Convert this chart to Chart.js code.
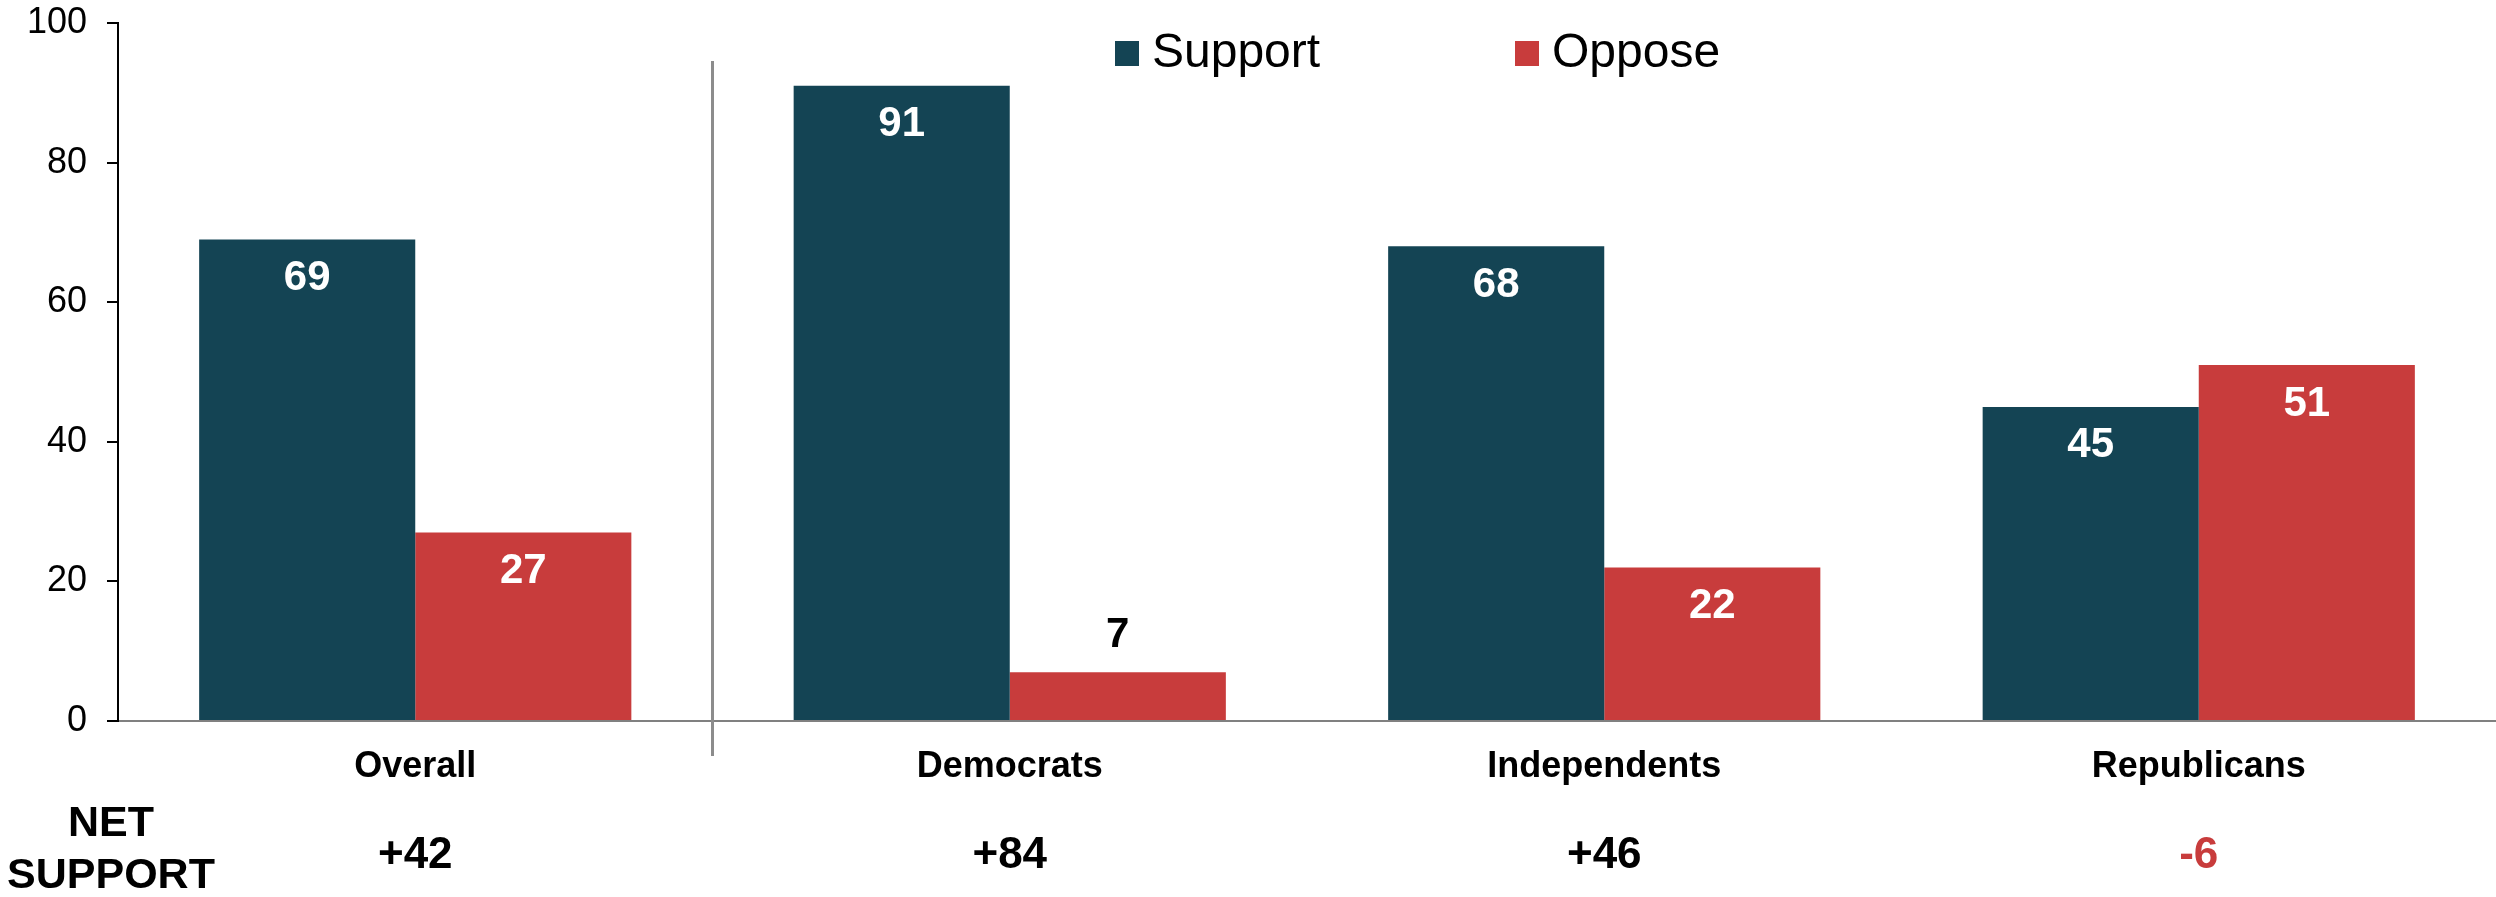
<!DOCTYPE html>
<html>
<head>
<meta charset="utf-8">
<script src="https://cdn.jsdelivr.net/npm/chart.js@4.4.1/dist/chart.umd.min.js"></script>
<style>
  html, body { margin: 0; padding: 0; background: #fff; }
  canvas { display: block; }
</style>
</head>
<body>
<canvas id="netChart" width="2496" height="897"></canvas>
<script>
const categories = ['Overall', 'Democrats', 'Independents', 'Republicans'];
const supportValues = [69, 91, 68, 45];
const opposeValues = [27, 7, 22, 51];
const netSupport = [42, 84, 46, -6];
const yTicks = [0, 20, 40, 60, 80, 100];

const SUPPORT_COLOR = '#144454';
const OPPOSE_COLOR = '#C83C3C';
const FONT = "'Liberation Sans', Arial, sans-serif";

// numbers on the bars: white inside, black above when the bar is short
const barLabels = {
    id: 'barLabels',
    afterDatasetsDraw(chart) {
        const ctx = chart.ctx;
        ctx.save();
        ctx.font = 'bold 42px ' + FONT;
        ctx.textAlign = 'center';
        ctx.textBaseline = 'middle';
        chart.data.datasets.forEach((ds, i) => {
            chart.getDatasetMeta(i).data.forEach((bar, j) => {
                const v = ds.data[j];
                const inside = v >= 10;
                ctx.fillStyle = inside ? '#fff' : '#000';
                ctx.fillText(v, bar.x, inside ? bar.y + 39 : bar.y - 37);
            });
        });
        ctx.restore();
    }
};

// divider, legend and the NET SUPPORT row
const extras = {
    id: 'extras',
    afterDraw(chart) {
        const { ctx, chartArea } = chart;
        const x = chart.scales.x;

        const sepX = (x.getPixelForValue(0) + x.getPixelForValue(1)) / 2;
        ctx.save();
        ctx.strokeStyle = '#8c8c8c';
        ctx.lineWidth = 3;
        ctx.beginPath();
        ctx.moveTo(sepX, chartArea.top + 38);
        ctx.lineTo(sepX, chartArea.bottom + 35);
        ctx.stroke();

        // legend
        const legendX = [1115, 1515];
        ctx.font = '48px ' + FONT;
        ctx.textAlign = 'left';
        ctx.textBaseline = 'middle';
        chart.data.datasets.forEach((ds, i) => {
            ctx.fillStyle = ds.backgroundColor;
            ctx.fillRect(legendX[i], 41, 24, 25);
            ctx.fillStyle = '#000';
            ctx.fillText(ds.label, legendX[i] + 37, 54);
        });

        ctx.textAlign = 'center';
        ctx.font = 'bold 43px ' + FONT;
        ctx.fillStyle = '#000';
        ctx.fillText('NET', 111, 824);
        ctx.fillText('SUPPORT', 111, 876);

        ctx.font = 'bold 44px ' + FONT;
        netSupport.forEach((n, i) => {
            ctx.fillStyle = n < 0 ? OPPOSE_COLOR : '#000';
            ctx.fillText((n > 0 ? '+' : '') + n, x.getPixelForValue(i), 856);
        });
        ctx.restore();
    }
};

new Chart(document.getElementById('netChart').getContext('2d'), {
    type: 'bar',
    data: {
        labels: categories,
        datasets: [{
            label: 'Support',
            data: supportValues,
            backgroundColor: SUPPORT_COLOR,
            categoryPercentage: 0.727,
            barPercentage: 1.0
        }, {
            label: 'Oppose',
            data: opposeValues,
            backgroundColor: OPPOSE_COLOR,
            categoryPercentage: 0.727,
            barPercentage: 1.0
        }]
    },
    options: {
        responsive: false,
        animation: false,
        devicePixelRatio: 1,
        layout: { padding: { top: 23, right: 0, bottom: 0, left: 0 } },
        plugins: {
            legend: { display: false },
            tooltip: { enabled: false }
        },
        scales: {
            x: {
                grid: { display: false, drawTicks: false },
                border: { color: '#808080', width: 2 },
                ticks: {
                    color: '#000',
                    padding: 24,
                    font: { family: FONT, size: 36, weight: 'bold' }
                },
                afterFit(scale) { scale.height = 176; }
            },
            y: {
                min: 0,
                max: 100,
                afterBuildTicks(scale) { scale.ticks = yTicks.map(v => ({ value: v })); },
                grid: { drawOnChartArea: false, drawTicks: true, tickLength: 11, color: '#000', lineWidth: 2 },
                border: { color: '#000', width: 2 },
                ticks: {
                    color: '#000',
                    padding: 20,
                    font: { family: FONT, size: 36 }
                },
                afterFit(scale) {
                    scale.width = 118;
                    scale.paddingTop = 0;
                    scale.paddingBottom = 0;
                }
            }
        }
    },
    plugins: [barLabels, extras]
});
</script>
</body>
</html>
